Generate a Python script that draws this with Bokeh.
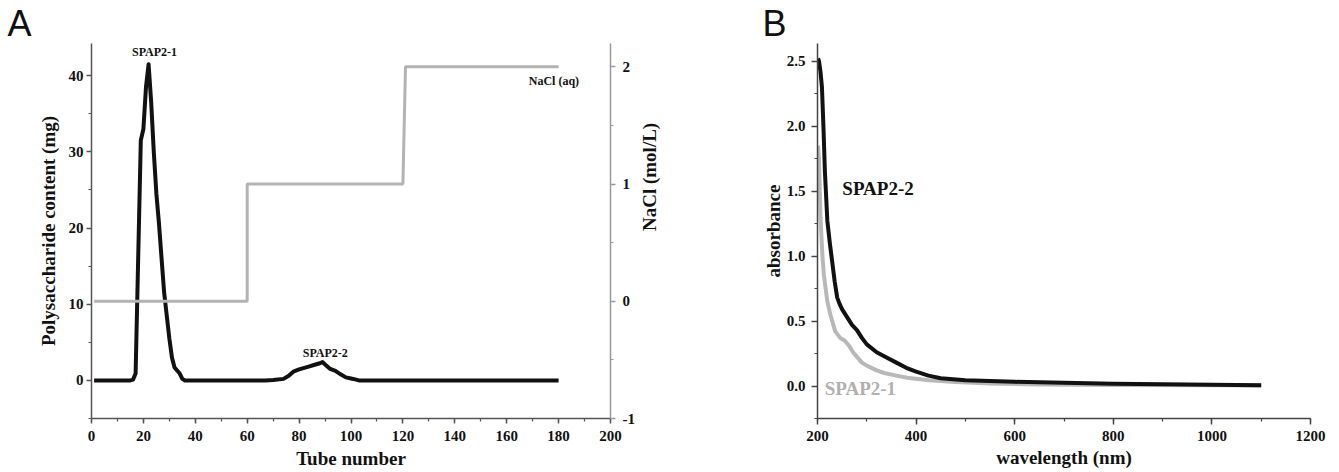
from math import pi
from bokeh.plotting import figure
from bokeh.models import Range1d, LinearAxis, SingleIntervalTicker, Label, PrintfTickFormatter
from bokeh.layouts import row
from bokeh.embed import file_html
from bokeh.resources import INLINE

# ---------------- data: panel A ----------------
tube = [1, 5, 10, 15, 16, 17, 19, 20, 21, 22, 23, 24, 25, 26, 27, 28, 29, 30, 31, 32,
        33, 34, 35, 36, 40, 50, 60, 67, 70, 74, 76, 78, 80, 82, 84, 86, 88, 89, 90, 92,
        94, 96, 98, 100, 102, 103, 110, 120, 140, 160, 180]
content = [0, 0, 0, 0, 0.1, 0.9, 31.5, 33.0, 38.5, 41.5, 36.5, 30.0, 24.5, 20.6, 16.0, 11.5, 8.5, 5.5, 3.0, 1.7,
           1.3, 0.9, 0.2, 0.0, 0, 0, 0, 0, 0.05, 0.2, 0.6, 1.2, 1.45, 1.65, 1.85, 2.05, 2.25, 2.4, 2.1, 1.5,
           1.25, 0.8, 0.4, 0.25, 0.1, 0.0, 0, 0, 0, 0, 0]
nacl_tube = [1, 60, 60, 120, 121, 180]
nacl_conc = [0, 0, 1, 1, 2, 2]

# ---------------- data: panel B ----------------
wl_2 = [201, 203, 206, 209, 212, 215, 220, 225, 230, 235, 240, 245, 250, 260, 270, 280, 290, 300,
        320, 340, 360, 380, 400, 425, 450, 500, 550, 600, 700, 800, 900, 1000, 1100]
abs_2 = [2.52, 2.50, 2.42, 2.30, 2.0, 1.65, 1.27, 1.1, 0.95, 0.80, 0.68, 0.63, 0.59, 0.53, 0.47, 0.43, 0.37, 0.32,
         0.26, 0.22, 0.18, 0.14, 0.11, 0.08, 0.06, 0.045, 0.038, 0.032, 0.025, 0.018, 0.013, 0.009, 0.006]
wl_1 = [201, 203, 206, 210, 213, 220, 226, 236, 246, 255, 264, 272, 281, 290, 301, 320, 335, 360,
        382, 426, 480, 550, 650, 800, 1000, 1100]
abs_1 = [1.85, 1.75, 1.3, 1.0, 0.85, 0.65, 0.55, 0.42, 0.37, 0.35, 0.31, 0.26, 0.22, 0.18, 0.155, 0.12, 0.10, 0.08,
         0.064, 0.044, 0.03, 0.02, 0.012, 0.008, 0.005, 0.004]

SERIF = "Liberation Serif"
SANS = "Liberation Sans"
BLACK = "#111111"
GRAY = "#b3b3b3"


def style_axis(ax, color, tick_out=6, label_standoff=3, axis_standoff=6):
    ax.axis_line_color = color
    ax.axis_line_width = 1.5
    ax.major_tick_line_color = color
    ax.minor_tick_line_color = color
    ax.major_tick_line_width = 1.5
    ax.minor_tick_line_width = 1.2
    ax.major_tick_in = 0
    ax.major_tick_out = tick_out
    ax.minor_tick_in = 0
    ax.minor_tick_out = 3
    ax.major_label_standoff = label_standoff
    ax.major_label_text_font = SERIF
    ax.major_label_text_font_style = "bold"
    ax.major_label_text_font_size = "15px"
    ax.major_label_text_color = BLACK
    ax.axis_label_text_font = SERIF
    ax.axis_label_text_font_style = "bold"
    ax.axis_label_text_font_size = "19px"
    ax.axis_label_text_color = BLACK
    ax.axis_label_standoff = axis_standoff


def text(p, x, y, s, size, color=BLACK, y_range_name="default"):
    p.add_layout(Label(x=x, y=y, text=s, text_font=SERIF, text_font_style="bold",
                       text_font_size=size, text_color=color, text_align="center",
                       text_baseline="middle", y_range_name=y_range_name))


def panel_letter(p, letter, offset):
    p.title.text = letter
    p.title.text_font = SANS
    p.title.text_font_style = "normal"
    p.title.text_font_size = "36px"
    p.title.text_color = "#111111"
    p.title.align = "left"
    p.title.offset = offset
    p.title.standoff = 0


# ================= Panel A =================
pA = figure(width=708, height=472, x_range=Range1d(0, 200), y_range=Range1d(-5, 44.22),
            output_backend="svg", toolbar_location=None,
            min_border_left=91, min_border_right=98, min_border_top=43, min_border_bottom=52)
pA.outline_line_color = None
pA.xgrid.visible = False
pA.ygrid.visible = False
panel_letter(pA, "A", -84)

pA.xaxis.ticker = SingleIntervalTicker(interval=20, num_minor_ticks=2)
pA.yaxis.ticker = SingleIntervalTicker(interval=10, num_minor_ticks=2)
pA.yaxis.formatter = PrintfTickFormatter(format="%d")
pA.xaxis.formatter = PrintfTickFormatter(format="%d")
pA.yaxis.axis_label = "Polysaccharide content (mg)"
pA.xaxis.axis_label = "Tube number"
style_axis(pA.xaxis[0], "#555555", tick_out=5, label_standoff=7, axis_standoff=4)
style_axis(pA.yaxis[0], "#555555", tick_out=5, label_standoff=3, axis_standoff=7)

pA.extra_y_ranges = {"nacl": Range1d(-1, 2.199)}
ax_r = LinearAxis(y_range_name="nacl", axis_label="NaCl (mol/L)",
                  ticker=SingleIntervalTicker(interval=1, num_minor_ticks=2),
                  formatter=PrintfTickFormatter(format="%d"))
style_axis(ax_r, "#9a9a9a", tick_out=5, label_standoff=7, axis_standoff=12)
if hasattr(ax_r, "axis_label_orientation"):
    ax_r.axis_label_orientation = pi / 2
pA.add_layout(ax_r, "right")

pA.line(tube, content, line_width=4, color=BLACK, line_join="round")
pA.line(nacl_tube, nacl_conc, y_range_name="nacl", line_width=3, color=GRAY)

text(pA, 24.3, 43.1, "SPAP2-1", "12px")
text(pA, 90.1, 3.6, "SPAP2-2", "12px")
text(pA, 178.2, 1.88, "NaCl (aq)", "12px", y_range_name="nacl")

# ================= Panel B =================
pB = figure(width=627, height=472, x_range=Range1d(200, 1200), y_range=Range1d(-0.25, 2.635),
            output_backend="svg", toolbar_location=None,
            min_border_left=109, min_border_right=25, min_border_top=43, min_border_bottom=54)
pB.outline_line_color = None
pB.xgrid.visible = False
pB.ygrid.visible = False
panel_letter(pB, "B", -55)

pB.xaxis.ticker = SingleIntervalTicker(interval=200, num_minor_ticks=2)
pB.yaxis.ticker = SingleIntervalTicker(interval=0.5, num_minor_ticks=2)
pB.yaxis.formatter = PrintfTickFormatter(format="%.1f")
pB.xaxis.formatter = PrintfTickFormatter(format="%d")
pB.yaxis.axis_label = "absorbance"
pB.xaxis.axis_label = "wavelength (nm)"
style_axis(pB.xaxis[0], "#444444", tick_out=6, label_standoff=6, axis_standoff=3)
style_axis(pB.yaxis[0], "#444444", tick_out=6, label_standoff=6, axis_standoff=0)

pB.line(wl_1, abs_1, line_width=4, color="#b8b8b8", line_join="round")
pB.line(wl_2, abs_2, line_width=4, color=BLACK, line_join="round")

text(pB, 322.8, 1.52, "SPAP2-2", "19px")
text(pB, 287, -0.02, "SPAP2-1", "19px", color="#b0b0b0")

layout = row(pA, pB)
open("out.html", "w").write(file_html(layout, INLINE))
